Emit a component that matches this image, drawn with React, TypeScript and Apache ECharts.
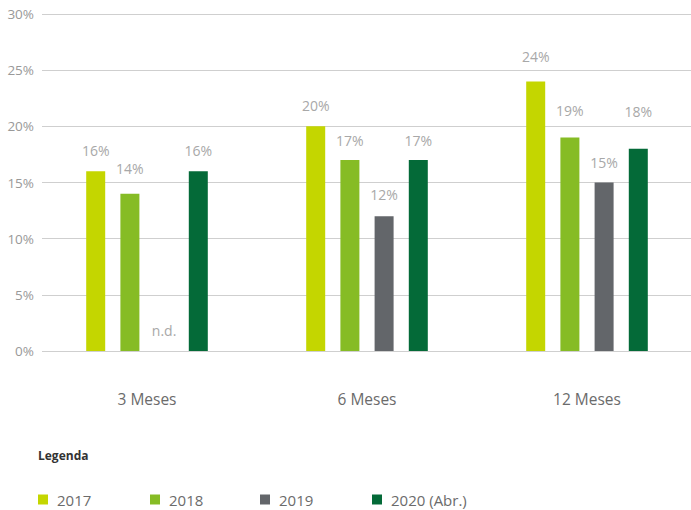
import React, { useEffect, useRef } from "react";
import * as echarts from "echarts";

const categories = ["3 Meses", "6 Meses", "12 Meses"];
const seriesNames = ["2017", "2018", "2019", "2020 (Abr.)"];
const values2017 = [16, 20, 24];
const values2018 = [14, 17, 19];
const values2019: (number | null)[] = [0, 12, 15];
const values2020 = [16, 17, 18];
const noDataFlags = [true, false, false];
const yTicks = { min: 0, max: 30, interval: 5 };
const colors = ["#c4d600", "#86bc25", "#63666a", "#046a38"];
// label lift above each bar (layout only), per series, per category
const labelLift = [
  [14, 14, 18],
  [18, 12.5, 20],
  [13.5, 14.5, 13.5],
  [14, 12.5, 30],
];

export default function App() {
  const ref = useRef<HTMLDivElement>(null);
  useEffect(() => {
    const chart = echarts.init(ref.current!, null, { renderer: "svg" });
    const font = "'Open Sans', 'Noto Sans', sans-serif";
    const allValues = [values2017, values2018, values2019, values2020];
    const legendLefts = [38, 150, 260, 372];
    chart.setOption({
      animation: false,
      textStyle: { fontFamily: font },
      grid: [
        { left: 37, width: 660, top: 14, height: 337, outerBoundsMode: "none", containLabel: false },
        { left: 42, right: 0, top: 14, height: 337, outerBoundsMode: "none", containLabel: false },
      ],
      xAxis: [
        {
          type: "category",
          gridIndex: 0,
          data: categories,
          axisLine: { show: false },
          axisTick: { show: false },
          axisLabel: { color: "#6b6b6b", fontSize: 15.5, margin: 40, fontFamily: font },
        },
        {
          type: "category",
          gridIndex: 1,
          data: categories,
          show: false,
        },
      ],
      yAxis: [
        {
          type: "value",
          gridIndex: 0,
          min: yTicks.min,
          max: yTicks.max,
          interval: yTicks.interval,
          axisLabel: { show: false },
          splitLine: { show: false },
          axisLine: { show: false },
          axisTick: { show: false },
        },
        {
          type: "value",
          gridIndex: 1,
          min: yTicks.min,
          max: yTicks.max,
          interval: yTicks.interval,
          axisLabel: { formatter: "{value}%", color: "#999", fontSize: 13.5, margin: 8, fontFamily: font },
          splitLine: { lineStyle: { color: "#cfcfcf", width: 1 } },
          axisLine: { show: false },
          axisTick: { show: false },
        },
      ],
      legend: seriesNames.map((n, i) => ({
        data: [n],
        left: legendLefts[i],
        top: 492,
        icon: "rect",
        itemWidth: 10,
        itemHeight: 10,
        itemGap: 10,
        textStyle: { color: "#6b6b6b", fontSize: 15, fontFamily: font, padding: [0, 0, 0, 4] },
        padding: 0,
        selectedMode: false,
      })),
      graphic: [
        {
          type: "text",
          left: 38,
          top: 449,
          style: { text: "Legenda", fill: "#333", font: `bold 12px ${font}` },
        },
      ],
      series: seriesNames.map((n, i) => ({
        name: n,
        type: "bar",
        xAxisIndex: 0,
        yAxisIndex: 0,
        data: allValues[i].map((v, j) => ({ value: v, label: { distance: labelLift[i][j] } })),
        barWidth: 19,
        barGap: "80%",
        z: 3,
        itemStyle: { color: colors[i] },
        label: {
          show: true,
          position: "top",
          color: "#a8a8a8",
          fontSize: 14,
          fontFamily: font,
          formatter: (p: any) => (i === 2 && noDataFlags[p.dataIndex] ? "n.d." : `${p.value}%`),
        },
      })),
    });
    return () => chart.dispose();
  }, []);
  return <div ref={ref} style={{ position: "absolute", left: 0, top: 0, width: 691, height: 510 }} />;
}
